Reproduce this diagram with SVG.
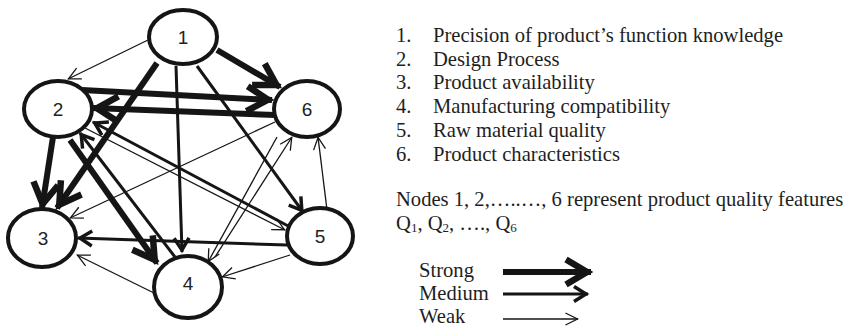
<svg xmlns="http://www.w3.org/2000/svg" width="844" height="326" viewBox="0 0 844 326">
  <style>
    .node ellipse { fill: #fff; stroke: #151515; stroke-width: 4; }
    .node text { font-family: "Liberation Sans", Arial, sans-serif; font-size: 19px; fill: #222; text-anchor: middle; }
    .edge { fill: none; stroke: #151515; }
    .strong { stroke-width: 6; marker-end: url(#arrow-strong); }
    .medium { stroke-width: 3; marker-end: url(#arrow-medium); }
    .weak { stroke-width: 1.3; marker-end: url(#arrow-weak); }
    .txt { font-family: "Liberation Serif", "Times New Roman", serif; font-size: 20.6px; fill: #1e1e1e; }
  </style>
  <defs>
    <marker id="arrow-strong" markerUnits="userSpaceOnUse" markerWidth="10" markerHeight="10" refX="4" refY="0" orient="auto" overflow="visible">
      <path d="M-21,-12.5 L0,0 L-21,12.5" fill="none" stroke="#151515" stroke-width="6.5"/>
    </marker>
    <marker id="arrow-medium" markerUnits="userSpaceOnUse" markerWidth="10" markerHeight="10" refX="2" refY="0" orient="auto" overflow="visible">
      <path d="M-12,-7.5 L0,0 L-12,7.5" fill="none" stroke="#151515" stroke-width="3.5"/>
    </marker>
    <marker id="arrow-weak" markerUnits="userSpaceOnUse" markerWidth="10" markerHeight="10" refX="0.5" refY="0" orient="auto" overflow="visible">
      <path d="M-12,-6 L0,0 L-12,6" fill="none" stroke="#151515" stroke-width="1.3"/>
    </marker>
  </defs>

  <!-- connectors -->
  <g id="connectors">
    <line class="edge weak" x1="148" y1="40" x2="68" y2="79"/>
    <line class="edge strong" x1="217" y1="50" x2="280" y2="87"/>
    <line class="edge strong" x1="157" y1="63" x2="57" y2="208"/>
    <line class="edge medium" x1="176" y1="66" x2="182" y2="252"/>
    <line class="edge medium" x1="197" y1="66" x2="303" y2="212"/>
    <line class="edge strong" x1="82" y1="90" x2="272" y2="100"/>
    <line class="edge strong" x1="275" y1="115" x2="93" y2="108"/>
    <line class="edge strong" x1="53" y1="137" x2="42" y2="208"/>
    <line class="edge strong" x1="70" y1="140" x2="157" y2="263"/>
    <line class="edge medium" x1="175" y1="257" x2="80" y2="133"/>
    <line class="edge medium" x1="290" y1="227" x2="93" y2="122"/>
    <line class="edge weak" x1="85" y1="128" x2="285" y2="230"/>
    <line class="edge weak" x1="275" y1="122" x2="70" y2="218"/>
    <line class="edge weak" x1="277" y1="137" x2="208" y2="262"/>
    <line class="edge weak" x1="215" y1="257" x2="292" y2="137"/>
    <line class="edge weak" x1="327" y1="210" x2="318" y2="137"/>
    <line class="edge medium" x1="287" y1="245" x2="78" y2="238"/>
    <line class="edge weak" x1="290" y1="255" x2="222" y2="277"/>
    <line class="edge weak" x1="154" y1="293" x2="77" y2="255"/>
  </g>

  <!-- nodes -->
  <g id="node-1" class="node"><ellipse cx="183" cy="37" rx="34" ry="27"/><text x="183" y="43.5">1</text></g>
  <g id="node-2" class="node"><ellipse cx="58" cy="109" rx="34" ry="28"/><text x="58" y="115.5">2</text></g>
  <g id="node-3" class="node"><ellipse cx="42" cy="238" rx="34" ry="29"/><text x="43" y="244.5">3</text></g>
  <g id="node-4" class="node"><ellipse cx="188" cy="287" rx="34" ry="31"/><text x="188" y="290">4</text></g>
  <g id="node-5" class="node"><ellipse cx="320" cy="236" rx="33" ry="28"/><text x="320" y="242.5">5</text></g>
  <g id="node-6" class="node"><ellipse cx="307" cy="109" rx="33" ry="28"/><text x="307" y="115.5">6</text></g>

  <!-- feature list -->
  <g id="feature-list" class="txt">
    <text x="396" y="42">1.</text><text x="433" y="42">Precision of product’s function knowledge</text>
    <text x="396" y="65.7">2.</text><text x="433" y="65.7">Design Process</text>
    <text x="396" y="89.4">3.</text><text x="433" y="89.4">Product availability</text>
    <text x="396" y="113.1">4.</text><text x="433" y="113.1">Manufacturing compatibility</text>
    <text x="396" y="136.8">5.</text><text x="433" y="136.8">Raw material quality</text>
    <text x="396" y="160.5">6.</text><text x="433" y="160.5">Product characteristics</text>
    <text x="396" y="206">Nodes 1, 2,…..…, 6 represent product quality features</text>
    <text x="396" y="230">Q<tspan font-size="13" dy="2">1</tspan><tspan dy="-2">, Q</tspan><tspan font-size="13" dy="2">2</tspan><tspan dy="-2">, …., Q</tspan><tspan font-size="13" dy="2">6</tspan></text>
  </g>

  <!-- legend -->
  <g id="legend">
    <text class="txt" x="419" y="277">Strong</text>
    <text class="txt" x="419" y="300">Medium</text>
    <text class="txt" x="419" y="323">Weak</text>
    <line class="edge strong" x1="503" y1="272" x2="591" y2="272"/>
    <line class="edge medium" x1="503" y1="294" x2="588" y2="294"/>
    <line class="edge weak" x1="503" y1="319" x2="578" y2="319"/>
  </g>
</svg>
